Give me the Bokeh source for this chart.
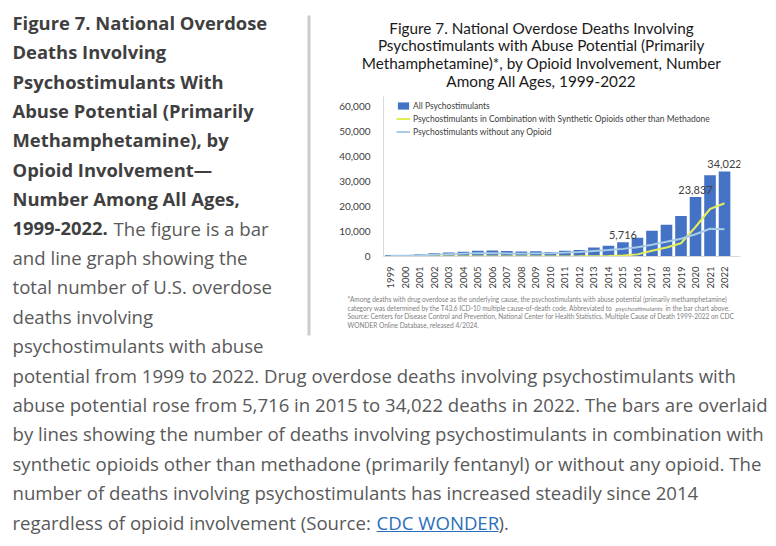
from bokeh.plotting import figure
from bokeh.models import (Range1d, NumeralTickFormatter, FixedTicker,
                          Legend, LegendItem, ColumnDataSource)
from bokeh.layouts import column, row
from bokeh.embed import file_html
from bokeh.resources import INLINE
from bokeh.core.properties import value
import math

# ---------------- data ----------------
years = [1999, 2000, 2001, 2002, 2003, 2004, 2005, 2006, 2007, 2008,
         2009, 2010, 2011, 2012, 2013, 2014, 2015, 2016, 2017, 2018,
         2019, 2020, 2021, 2022]
all_psychostimulants = [550, 580, 860, 1300, 1600, 1900, 2300, 2400, 2200, 2000,
                        2100, 1850, 2300, 2650, 3600, 4300, 5716, 7550, 10300, 12700,
                        16200, 23837, 32500, 34022]
with_synthetic_opioids = [10, 10, 15, 20, 25, 25, 30, 50, 40, 40,
                          40, 40, 50, 60, 90, 170, 400, 850, 2300, 3600,
                          5300, 11800, 19000, 21300]
without_any_opioid = [330, 350, 500, 750, 950, 1150, 1350, 1350, 1250, 1150,
                      1250, 1300, 1550, 1800, 2200, 2600, 3050, 3700, 4700, 5900,
                      7100, 8900, 11100, 10900]
labeled_years = [2015, 2020, 2022]
y_ticks = [0, 10000, 20000, 30000, 40000, 50000, 60000]

series_names = ["All Psychostimulants",
                "Psychostimulants in Combination with Synthetic Opioids other than Methadone",
                "Psychostimulants without any Opioid"]

chart_title = ["Figure 7. National Overdose Deaths Involving",
               "Psychostimulants with Abuse Potential (Primarily",
               "Methamphetamine)*, by Opioid Involvement, Number",
               "Among All Ages, 1999-2022"]

left_bold = ["Figure 7. National Overdose", "Deaths Involving", "Psychostimulants With",
             "Abuse Potential (Primarily", "Methamphetamine), by", "Opioid Involvement\u2014",
             "Number Among All Ages,", "1999-2022."]
left_normal = ["The figure is a bar", "and line graph showing the",
               "total number of U.S. overdose", "deaths involving",
               "psychostimulants with abuse"]
bottom_lines = ["potential from 1999 to 2022. Drug overdose deaths involving psychostimulants with",
                "abuse potential rose from 5,716 in 2015 to 34,022 deaths in 2022. The bars are overlaid",
                "by lines showing the number of deaths involving psychostimulants in combination with",
                "synthetic opioids other than methadone (primarily fentanyl) or without any opioid. The",
                "number of deaths involving psychostimulants has increased steadily since 2014",
                "regardless of opioid involvement (Source: "]
link_text = "CDC WONDER"
link_tail = ")."

footnote = [
    ["*Among deaths with drug overdose as the underlying cause, the psychostimulants with abuse potential (primarily methamphetamine)"],
    ["category was determined by the T43.6 ICD-10 multiple cause-of-death code. Abbreviated to ",
     "psychostimulants", " in the bar chart above."],
    ["Source: Centers for Disease Control and Prevention, National Center for Health Statistics. Multiple Cause of Death 1999-2022 on CDC"],
    ["WONDER Online Database, released 4/2024."],
]

# ---------------- styles ----------------
PAGE_FONT = value("Open Sans")
CHART_FONT = value("Lato")
BOLD_COLOR = "#3f3f3f"
TEXT_COLOR = "#595959"
LINK_COLOR = "#2a6ebb"
BAR_COLOR = "#4472C4"
YELLOW = "#E3ED5A"
LIGHTBLUE = "#A9CCE6"
FSB = "18.4px"
FS = "18.6px"


def canvas(w, h, x0, x1, y_top, y_bottom):
    f = figure(width=w, height=h, x_range=Range1d(x0, x1), y_range=Range1d(y_bottom, y_top),
               output_backend="svg", toolbar_location=None, min_border=0,
               x_axis_location=None, y_axis_location=None)
    f.grid.visible = False
    f.outline_line_color = None
    f.background_fill_color = "white"
    f.border_fill_color = "white"
    return f


LH = 29.4
Y0 = 21.7

# ---------------- left text column ----------------
left = canvas(312, 360, 0, 312, 0, 360)
left.text(x=[12] * len(left_bold), y=[Y0 + i * LH for i in range(len(left_bold))], text=left_bold,
          text_font=PAGE_FONT, text_font_style="bold", text_font_size=FSB,
          text_color=BOLD_COLOR, text_baseline="middle", text_align="left")
nb = len(left_bold) - 1
left.text(x=[113] + [12] * (len(left_normal) - 1),
          y=[Y0 + (nb + i) * LH for i in range(len(left_normal))], text=left_normal,
          text_font=PAGE_FONT, text_font_size=FS,
          text_color=TEXT_COLOR, text_baseline="middle", text_align="left")
left.segment(x0=[308.5], y0=[15], x1=[308.5], y1=[335], line_color="#cccccc", line_width=3)

# ---------------- chart title ----------------
tfig = canvas(464, 92, 312, 776, 0, 92)
tfig.text(x=[541] * len(chart_title), y=[27 + i * 17.7 for i in range(len(chart_title))],
          text=chart_title, text_font=CHART_FONT, text_font_size="15.3px", text_color="#1a1a1a",
          text_baseline="middle", text_align="center")

# ---------------- chart ----------------
src = ColumnDataSource(dict(year=years, allp=all_psychostimulants,
                            synth=with_synthetic_opioids, noop=without_any_opioid))
cp = figure(width=464, height=202, x_range=Range1d(1998.5, 2023.1), y_range=Range1d(0, 64000),
            output_backend="svg", toolbar_location=None,
            min_border_left=71, min_border_right=36, min_border_top=4, min_border_bottom=38)
cp.outline_line_color = None
cp.grid.visible = False
cp.background_fill_color = "white"
cp.border_fill_color = "white"

bars = cp.vbar(x="year", top="allp", width=0.8, source=src, fill_color=BAR_COLOR, line_color=None)
l1 = cp.line(x="year", y="synth", source=src, line_color=YELLOW, line_width=2)
l2 = cp.line(x="year", y="noop", source=src, line_color=LIGHTBLUE, line_width=2)

lab_vals = [all_psychostimulants[years.index(y)] for y in labeled_years]
cp.text(x=labeled_years, y=lab_vals, text=[f"{v:,}" for v in lab_vals],
        text_font=CHART_FONT, text_font_size="11px", text_color="#404040",
        text_align="center", text_baseline="bottom", y_offset=-3)

cp.xaxis.ticker = FixedTicker(ticks=years)
cp.yaxis.ticker = FixedTicker(ticks=y_ticks)
cp.yaxis.formatter = NumeralTickFormatter(format="0,0")
cp.xaxis.formatter = NumeralTickFormatter(format="0")
for ax in (cp.xaxis, cp.yaxis):
    ax.major_tick_line_color = None
    ax.minor_tick_line_color = None
    ax.axis_line_color = "#d9d9d9"
    ax.major_label_text_font = "Lato"
    ax.major_label_text_color = "#404040"
cp.yaxis.major_label_text_font_size = "10px"
cp.xaxis.major_label_text_font_size = "9.5px"
cp.yaxis.major_label_standoff = 7
cp.xaxis.major_label_standoff = 4
cp.xaxis.major_label_orientation = math.pi / 2

legend = Legend(items=[LegendItem(label=series_names[0], renderers=[bars]),
                       LegendItem(label=series_names[1], renderers=[l1]),
                       LegendItem(label=series_names[2], renderers=[l2])],
                location=(13, 119), padding=0, margin=0, spacing=2,
                glyph_width=14, glyph_height=9, label_height=11, label_standoff=3,
                label_text_font="Lato", label_text_font_size="8.5px", label_text_color="#404040",
                border_line_color=None, background_fill_alpha=0)
cp.add_layout(legend)

# ---------------- footnote ----------------
ffig = canvas(464, 66, 312, 776, 294, 360)
fy = [299 + i * 8.5 for i in range(4)]
for i, segs in enumerate(footnote):
    xs = [347, 615, 665][:len(segs)]
    for j, s in enumerate(segs):
        ffig.text(x=[xs[j]], y=[fy[i]], text=[s], text_font=CHART_FONT, text_font_size="6.55px",
                  text_font_style="italic" if (len(segs) == 3 and j == 1) else "normal",
                  text_color="#808080", text_baseline="middle", text_align="left")

# ---------------- bottom text ----------------
bfig = canvas(776, 186, 0, 776, 360, 546)
by = [Y0 + (nb + len(left_normal) + i) * LH for i in range(len(bottom_lines))]
bfig.text(x=[12] * len(bottom_lines), y=by, text=bottom_lines,
          text_font=PAGE_FONT, text_font_size=FS, text_color=TEXT_COLOR,
          text_baseline="middle", text_align="left")
bfig.text(x=[376], y=[by[-1]], text=[link_text], text_font=PAGE_FONT, text_font_size=FS,
          text_color=LINK_COLOR, text_baseline="middle", text_align="left")
bfig.text(x=[498], y=[by[-1]], text=[link_tail], text_font=PAGE_FONT, text_font_size=FS,
          text_color=TEXT_COLOR, text_baseline="middle", text_align="left")
bfig.segment(x0=[376], y0=[by[-1] + 9.5], x1=[498], y1=[by[-1] + 9.5], line_color=LINK_COLOR, line_width=1)

layout = column(row(left, column(row(tfig), cp, row(ffig))), bfig)
open("out.html", "w").write(file_html(layout, INLINE))
